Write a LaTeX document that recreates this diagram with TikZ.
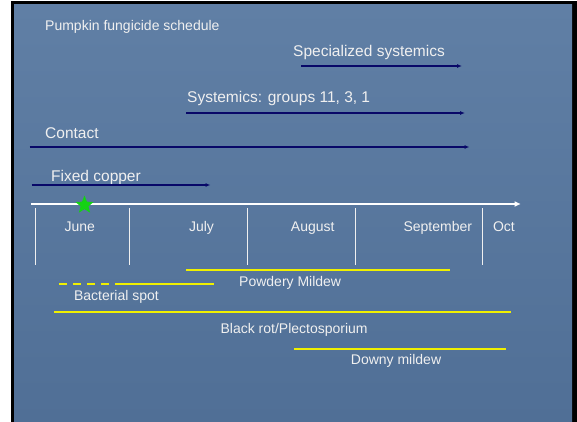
\documentclass[tikz,border=0pt]{standalone}
\usepackage{fontspec}
\setmainfont{Liberation Sans}
\usetikzlibrary{shapes.geometric,arrows.meta}
\definecolor{slidebg}{RGB}{96,127,165}
\definecolor{slidebgdark}{RGB}{80,111,150}
\definecolor{navyarrow}{RGB}{8,8,104}
\definecolor{diseaseline}{RGB}{240,240,0}
\definecolor{labeltext}{RGB}{240,240,240}
\definecolor{stargreen}{RGB}{20,210,20}
\tikzset{
  fungarrow/.style={draw=navyarrow, line width=1.6pt, -{Latex[length=5pt,width=4pt]}},
  diseasebar/.style={draw=diseaseline, line width=1.8pt},
  monthtick/.style={draw=labeltext, line width=1.2pt},
  toplabel/.style={text=labeltext, font=\fontsize{15.5}{18}\selectfont, anchor=base west, inner sep=0pt},
  lowlabel/.style={text=labeltext, font=\fontsize{14}{16}\selectfont, anchor=base west, inner sep=0pt},
  monthlabel/.style={lowlabel, anchor=base},
}
\begin{document}
\begin{tikzpicture}[x=1pt,y=-1pt]
    \useasboundingbox (0,0) rectangle (577,422);
    % slide frame
    \fill[white] (0,0) rectangle (577,422);
    \fill[black] (11,1) rectangle (577,422);
    \shade[top color=slidebg, bottom color=slidebgdark] (14,5) rectangle (572,422);
    \node[anchor=base west, inner sep=0pt, text=labeltext, font=\fontsize{14}{16}\selectfont] (title) at (45,31) {Pumpkin fungicide schedule};

    % fungicide programs
    \node[toplabel] (spec) at (293,57) {Specialized systemics};
    \coordinate (spec-s) at (301,66);
    \coordinate (spec-e) at (462,66);
    \draw[fungarrow] (spec-s) -- (spec-e);
    \node[toplabel] (syst) at (187,103) {Systemics: groups 11, 3, 1};
    \coordinate (syst-s) at (186,113);
    \coordinate (syst-e) at (465,113);
    \draw[fungarrow] (syst-s) -- (syst-e);
    \node[toplabel] (cont) at (45,139) {Contact};
    \coordinate (cont-s) at (29.5,147);
    \coordinate (cont-e) at (469.5,147);
    \draw[fungarrow] (cont-s) -- (cont-e);
    \node[toplabel] (copper) at (51,181) {Fixed copper};
    \coordinate (copper-s) at (31.5,185);
    \coordinate (copper-e) at (210.5,185);
    \draw[fungarrow] (copper-s) -- (copper-e);

    % time axis
    \coordinate (axis-s) at (31,204);
    \coordinate (axis-e) at (520.5,204);
    \draw[white, line width=1.5pt, -{Triangle[length=6pt,width=5pt]}] (axis-s) -- (axis-e);
    \node[star, star points=5, star point ratio=2.3, fill=stargreen, inner sep=0pt, minimum size=19pt] (start) at (84.5,205) {};
    \foreach \x [count=\i] in {35.4,129.6,247.3,355.5,482.5} {
       \coordinate (tick\i-t) at (\x,208);
       \coordinate (tick\i-b) at (\x,265);
       \draw[monthtick] (tick\i-t) -- (tick\i-b);
    }
    \foreach \x/\m in {79.7/June,201.5/July,312.7/August,437.8/September,503.9/Oct}
       \node[monthlabel] (m-\m) at (\x,231) {\m};

    % diseases
    \coordinate (pm-s) at (186,270);
    \coordinate (pm-e) at (449.6,270);
    \draw[diseasebar] (pm-s) -- (pm-e);
    \node[lowlabel] (pm) at (239,286) {Powdery Mildew};
    \coordinate (bs-s) at (59,284);
    \coordinate (bs-m) at (120.7,284);
    \coordinate (bs-e) at (214,284);
    \draw[diseasebar, dash pattern=on 7.5pt off 6.5pt] (bs-s) -- (bs-m);
    \draw[diseasebar] (bs-m) -- (bs-e);
    \node[lowlabel] (bs) at (73.8,300) {Bacterial spot};
    \coordinate (br-s) at (54.3,312);
    \coordinate (br-e) at (510.5,312);
    \draw[diseasebar] (br-s) -- (br-e);
    \node[lowlabel] (br) at (220.4,333) {Black rot/Plectosporium};
    \coordinate (dm-s) at (294.2,349);
    \coordinate (dm-e) at (506,349);
    \draw[diseasebar] (dm-s) -- (dm-e);
    \node[lowlabel] (dm) at (350.7,364) {Downy mildew};
\end{tikzpicture}
\end{document}
